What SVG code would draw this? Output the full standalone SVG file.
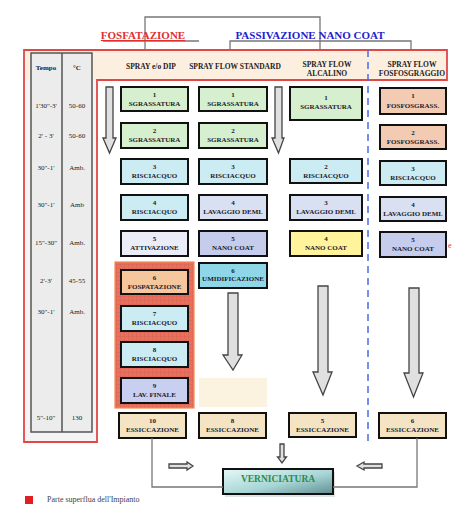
<svg xmlns="http://www.w3.org/2000/svg" width="474" height="515" viewBox="0 0 474 515">
<style>
.box{stroke:#111;stroke-width:2}
.bt{font-family:"Liberation Serif",serif;font-weight:bold;font-size:7px;fill:#1a1a2a;text-anchor:middle}
.ht{font-family:"Liberation Serif",serif;font-weight:bold;font-size:7.5px;fill:#222;text-anchor:middle}
.tt{font-family:"Liberation Serif",serif;font-size:7px;fill:#222;text-anchor:middle}
.gl{stroke:#777;stroke-width:1.3;fill:none}
.red{stroke:#e04848;stroke-width:1.8;fill:none}
.arr{fill:#e0e0e0;stroke:#444;stroke-width:1.3}
.sg{fill:#d6efcf}.ri{fill:#ccecf4}.la{fill:#d9e0f2}.at{fill:#eaedf8}.nc{fill:#c6cdec}.ny{fill:#fff49c}
.fo{fill:#f6c69c}.um{fill:#8ed6e8}.lf{fill:#c8cff0}.ff{fill:#f2cbb2}.es{fill:#f5e4c4}
</style>
<defs>
<pattern id="grid" width="4" height="4" patternUnits="userSpaceOnUse">
<rect width="4" height="4" fill="#e8705e"/>
<path d="M0 0H4M0 0V4" stroke="#d35a4a" stroke-width="0.6"/>
</pattern>
<linearGradient id="vg" x1="0" y1="0" x2="1" y2="1">
<stop offset="0" stop-color="#e6f8f8"/>
<stop offset="0.55" stop-color="#a9d6d6"/>
<stop offset="1" stop-color="#5f8e92"/>
</linearGradient>
</defs>
<rect width="474" height="515" fill="#fff"/>

<!-- top brackets -->
<g id="brackets">
<polyline class="gl" points="145,50 145,17 320,17 320,50"/>
<line class="gl" x1="103" y1="41" x2="199" y2="41"/>
<polyline class="gl" points="230,50 230,41 411,41 411,50"/>
</g>
<g id="title-fosfatazione">
<text x="143" y="39" font-family="Liberation Serif,serif" font-weight="bold" font-size="11" fill="#e03030" text-anchor="middle" text-decoration="underline">FOSFATAZIONE</text>
</g>
<g id="title-passivazione">
<text x="310" y="39" font-family="Liberation Serif,serif" font-weight="bold" font-size="11" fill="#2222cc" text-anchor="middle">PASSIVAZIONE NANO COAT</text>
</g>

<!-- frame -->
<g id="frame">
<rect x="24" y="50" width="423" height="30" fill="#fcefe0"/>
<rect x="24" y="80" width="73" height="362" fill="#f4f4f4"/>
<path class="red" d="M24 50H447V80H97V442H24Z"/>
</g>

<!-- left table -->
<g id="table">
<rect x="31" y="53" width="61" height="379" fill="#ececec" stroke="#555" stroke-width="1.5"/>
<line x1="62" y1="53" x2="62" y2="432" stroke="#555" stroke-width="1.5"/>
<text class="tt" font-weight="bold" x="46" y="70">Tempo</text><text class="tt" font-weight="bold" x="77" y="70">°C</text>
<text class="tt" x="46" y="108">1'30"-3'</text><text class="tt" x="77" y="108">50-60</text>
<text class="tt" x="46" y="138">2' - 3'</text><text class="tt" x="77" y="138">50-60</text>
<text class="tt" x="46" y="170">30"-1'</text><text class="tt" x="77" y="170">Amb.</text>
<text class="tt" x="46" y="207">30"-1'</text><text class="tt" x="77" y="207">Amb</text>
<text class="tt" x="46" y="245">15"-30"</text><text class="tt" x="77" y="245">Amb.</text>
<text class="tt" x="46" y="283">2'-3'</text><text class="tt" x="77" y="283">45-55</text>
<text class="tt" x="46" y="314">30"-1'</text><text class="tt" x="77" y="314">Amb.</text>
<text class="tt" x="46" y="420">5"-10"</text><text class="tt" x="77" y="420">130</text>
</g>

<!-- column headers -->
<g id="headers">
<text class="ht" x="151" y="69">SPRAY e/o DIP</text>
<text class="ht" x="235" y="69">SPRAY FLOW STANDARD</text>
<text class="ht" x="327" y="67">SPRAY FLOW</text><text class="ht" x="327" y="76">ALCALINO</text>
<text class="ht" x="412" y="67">SPRAY FLOW</text><text class="ht" x="412" y="76">FOSFOSGRAGGIO</text>
</g>

<line id="divider" x1="368" y1="50" x2="368" y2="442" stroke="#4a6ee0" stroke-width="1.5" stroke-dasharray="7,5"/>

<!-- red superfluous area -->
<rect id="superfluous" x="115" y="262" width="79" height="146" fill="url(#grid)" stroke="#f08a50" stroke-width="1.2"/>
<rect id="faded" x="199" y="378" width="68" height="29" fill="#fbf2e0"/>

<!-- column 1 -->
<g id="c1n1"><rect class="box sg" x="121" y="87" width="67" height="24"/><text class="bt" x="154.5" y="97">1</text><text class="bt" x="154.5" y="106">SGRASSATURA</text></g>
<g id="c1n2"><rect class="box sg" x="121" y="123" width="67" height="25"/><text class="bt" x="154.5" y="133">2</text><text class="bt" x="154.5" y="142">SGRASSATURA</text></g>
<g id="c1n3"><rect class="box ri" x="121" y="159" width="67" height="25"/><text class="bt" x="154.5" y="169">3</text><text class="bt" x="154.5" y="178">RISCIACQUO</text></g>
<g id="c1n4"><rect class="box ri" x="121" y="195" width="67" height="25"/><text class="bt" x="154.5" y="205">4</text><text class="bt" x="154.5" y="214">RISCIACQUO</text></g>
<g id="c1n5"><rect class="box at" x="121" y="231" width="67" height="25"/><text class="bt" x="154.5" y="241">5</text><text class="bt" x="154.5" y="250">ATTIVAZIONE</text></g>
<g id="c1n6"><rect class="box fo" x="121" y="270" width="67" height="24"/><text class="bt" x="154.5" y="280">6</text><text class="bt" x="154.5" y="289">FOSPATAZIONE</text></g>
<g id="c1n7"><rect class="box ri" x="121" y="306" width="67" height="25"/><text class="bt" x="154.5" y="316">7</text><text class="bt" x="154.5" y="325">RISCIACQUO</text></g>
<g id="c1n8"><rect class="box ri" x="121" y="342" width="67" height="25"/><text class="bt" x="154.5" y="352">8</text><text class="bt" x="154.5" y="361">RISCIACQUO</text></g>
<g id="c1n9"><rect class="box lf" x="121" y="378" width="67" height="25"/><text class="bt" x="154.5" y="388">9</text><text class="bt" x="154.5" y="397">LAV. FINALE</text></g>
<g id="c1n10"><rect class="box es" x="119" y="413" width="67" height="25"/><text class="bt" x="152.5" y="423">10</text><text class="bt" x="152.5" y="432">ESSICCAZIONE</text></g>

<!-- column 2 -->
<g id="c2n1"><rect class="box sg" x="199" y="87" width="68" height="24"/><text class="bt" x="233" y="97">1</text><text class="bt" x="233" y="106">SGRASSATURA</text></g>
<g id="c2n2"><rect class="box sg" x="199" y="123" width="68" height="25"/><text class="bt" x="233" y="133">2</text><text class="bt" x="233" y="142">SGRASSATURA</text></g>
<g id="c2n3"><rect class="box ri" x="199" y="159" width="68" height="25"/><text class="bt" x="233" y="169">3</text><text class="bt" x="233" y="178">RISCIACQUO</text></g>
<g id="c2n4"><rect class="box la" x="199" y="195" width="68" height="25"/><text class="bt" x="233" y="205">4</text><text class="bt" x="233" y="214">LAVAGGIO DEMI.</text></g>
<g id="c2n5"><rect class="box nc" x="199" y="231" width="68" height="25"/><text class="bt" x="233" y="241">5</text><text class="bt" x="233" y="250">NANO COAT</text></g>
<g id="c2n6"><rect class="box um" x="199" y="263" width="68" height="25"/><text class="bt" x="233" y="273">6</text><text class="bt" x="233" y="281">UMIDIFICAZIONE</text></g>
<g id="c2n8"><rect class="box es" x="199" y="413" width="67" height="25"/><text class="bt" x="232.5" y="423">8</text><text class="bt" x="232.5" y="432">ESSICCAZIONE</text></g>

<!-- column 3 -->
<g id="c3n1"><rect class="box sg" x="290" y="87" width="72" height="33"/><text class="bt" x="326" y="100">1</text><text class="bt" x="326" y="109">SGRASSATURA</text></g>
<g id="c3n2"><rect class="box ri" x="290" y="159" width="72" height="24"/><text class="bt" x="326" y="169">2</text><text class="bt" x="326" y="178">RISCIACQUO</text></g>
<g id="c3n3"><rect class="box la" x="290" y="195" width="72" height="25"/><text class="bt" x="326" y="205">3</text><text class="bt" x="326" y="214">LAVAGGIO DEMI.</text></g>
<g id="c3n4"><rect class="box ny" x="290" y="231" width="72" height="25"/><text class="bt" x="326" y="241">4</text><text class="bt" x="326" y="250">NANO COAT</text></g>
<g id="c3n5"><rect class="box es" x="289" y="413" width="67" height="24"/><text class="bt" x="322.5" y="423">5</text><text class="bt" x="322.5" y="432">ESSICCAZIONE</text></g>

<!-- column 4 -->
<g id="c4n1"><rect class="box ff" x="380" y="88" width="66" height="26"/><text class="bt" x="413" y="98">1</text><text class="bt" x="413" y="108">FOSFOSGRASS.</text></g>
<g id="c4n2"><rect class="box ff" x="380" y="125" width="66" height="24"/><text class="bt" x="413" y="135">2</text><text class="bt" x="413" y="144">FOSFOSGRASS.</text></g>
<g id="c4n3"><rect class="box ri" x="380" y="161" width="66" height="24"/><text class="bt" x="413" y="171">3</text><text class="bt" x="413" y="180">RISCIACQUO</text></g>
<g id="c4n4"><rect class="box la" x="380" y="197" width="66" height="24"/><text class="bt" x="413" y="207">4</text><text class="bt" x="413" y="216">LAVAGGIO DEMI.</text></g>
<g id="c4n5"><rect class="box nc" x="380" y="232" width="66" height="25"/><text class="bt" x="413" y="242">5</text><text class="bt" x="413" y="251">NANO COAT</text></g>
<g id="c4n6"><rect class="box es" x="379" y="413" width="67" height="25"/><text class="bt" x="412.5" y="423">6</text><text class="bt" x="412.5" y="432">ESSICCAZIONE</text></g>
<text x="448" y="248" font-family="Liberation Serif,serif" font-size="8" fill="#e03030">e</text>

<!-- verniciatura -->
<g id="verniciatura">
<rect x="225" y="472" width="110" height="25" fill="#c8d0d0" opacity="0.6"/>
<rect x="223" y="469" width="110" height="25" fill="url(#vg)" stroke="#111" stroke-width="2"/>
<text x="278" y="482" font-family="Liberation Serif,serif" font-weight="bold" font-size="9.5" fill="#2f8a4a" text-anchor="middle">VERNICIATURA</text>
</g>

<!-- connectors -->
<g id="connectors">
<polygon class="arr" points="106,87 113,87 113,138 116,138 109.5,153 103,138 106,138"/>
<polygon class="arr" points="275,87 282,87 282,138 284,138 278.5,153 272,138 275,138"/>
<polygon class="arr" points="228,293 238,293 238,355 242,355 233,370 223,355 228,355"/>
<polygon class="arr" points="318,286 328,286 328,372 332,372 323,395 313,372 318,372"/>
<polygon class="arr" points="409,288 419,288 419,373 423,373 413.5,397 404,373 409,373"/>
<polyline points="152,438 152,487 223,487" fill="none" stroke="#777" stroke-width="1.3"/>
<polyline points="417,438 417,487 333,487" fill="none" stroke="#777" stroke-width="1.3"/>
<polygon class="arr" stroke-width="0.9" points="169,464 187,464 187,462 193,466 187,470 187,468 169,468"/>
<polygon class="arr" stroke-width="0.9" points="382,464 364,464 364,462 357,466 364,470 364,468 382,468"/>
<polygon class="arr" stroke-width="0.9" points="280,444 284,444 284,457 286.5,457 282,463 277.5,457 280,457"/>
</g>

<!-- legend -->
<g id="legend">
<rect x="25" y="496" width="8" height="8" fill="#e02020"/>
<text x="47" y="502" font-family="Liberation Serif,serif" font-size="8" fill="#444">Parte superflua dell'Impianto</text>
</g>
</svg>
